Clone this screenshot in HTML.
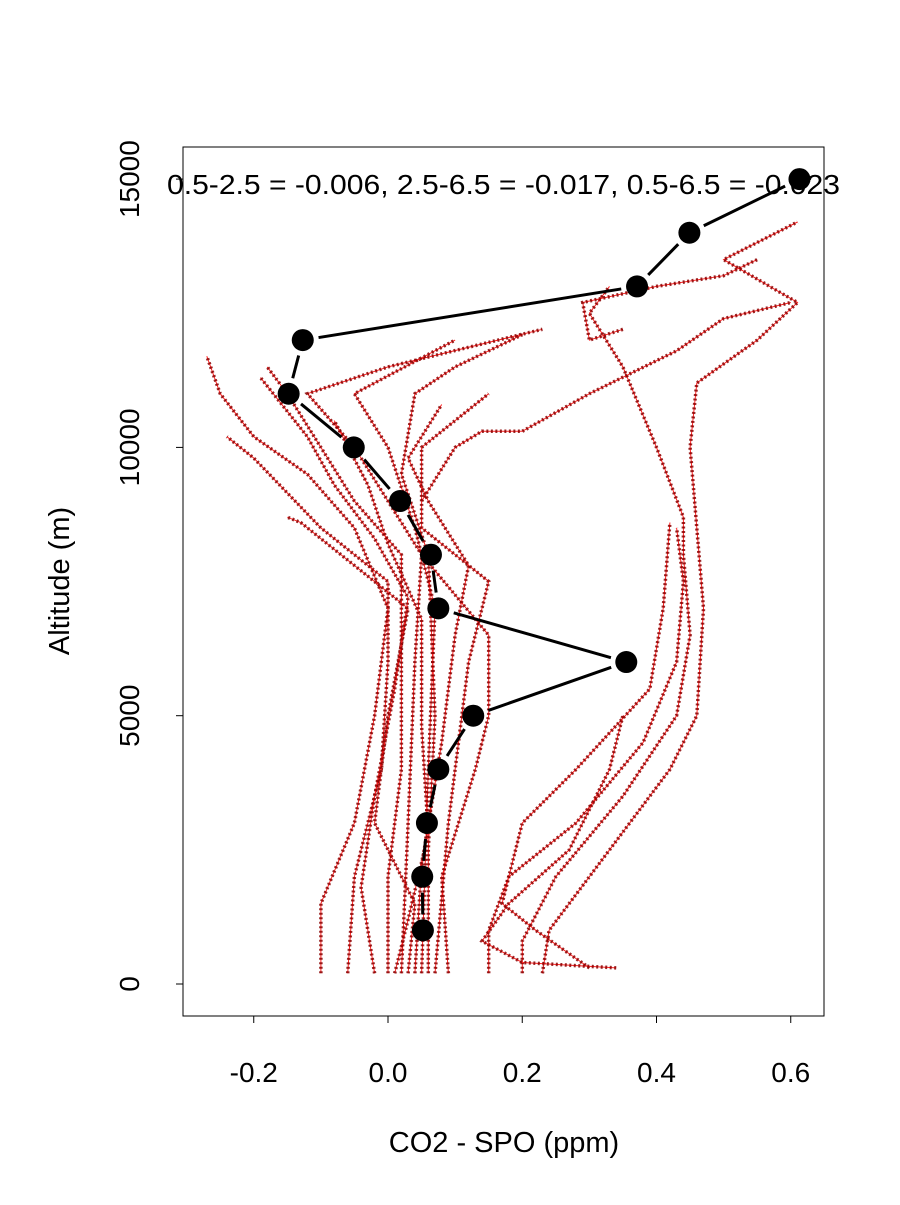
<!DOCTYPE html>
<html><head><meta charset="utf-8"><style>
html,body{margin:0;padding:0;background:#fff}
svg text{font-family:"Liberation Sans",sans-serif;fill:#000}
</style></head><body>
<svg id="chart" width="900" height="1200" viewBox="0 0 900 1200" xmlns="http://www.w3.org/2000/svg">
<rect x="183" y="147" width="641" height="869" fill="none" stroke="#000" stroke-width="1"/>
<g id="xaxis"></g>
<g id="yaxis"></g>
<g id="profiles"></g>
<g id="mean"></g>
<text x="504" y="1152" font-size="29" text-anchor="middle">CO2 - SPO (ppm)</text>
<text x="69" y="581" font-size="29" text-anchor="middle" transform="rotate(-90 69 581)">Altitude (m)</text>
<text x="167" y="194" font-size="28" textLength="673" lengthAdjust="spacingAndGlyphs">0.5-2.5 = -0.006, 2.5-6.5 = -0.017, 0.5-6.5 = -0.023</text>
</svg>
<script>
const xTicks=[-0.2,0.0,0.2,0.4,0.6];
const xTickLabels=["-0.2","0.0","0.2","0.4","0.6"];
const yTicks=[0,5000,10000,15000];
const yTickLabels=["0","5000","10000","15000"];
const meanAlt=[1000,2000,3000,4000,5000,6000,7000,8000,9000,10000,11000,12000,13000,14000,15000];
const meanCO2=[0.052,0.051,0.058,0.075,0.127,0.355,0.075,0.064,0.018,-0.051,-0.148,-0.127,0.371,0.449,0.613];
const profA=[[200,-0.1],[1500,-0.1],[3000,-0.05],[5000,-0.02],[7000,0.0],[8500,-0.05],[9500,-0.12],[10200,-0.2],[11000,-0.25],[11700,-0.27]];
const profB=[[200,-0.06],[2000,-0.05],[4000,-0.01],[6000,0.0],[7500,0.0],[8500,-0.1],[9800,-0.2],[10200,-0.24]];
const profC=[[200,0.0],[2000,0.0],[4000,0.02],[6000,0.02],[8000,0.02],[9000,-0.05],[10000,-0.1],[11000,-0.15],[11500,-0.18]];
const profD=[[200,0.02],[3000,0.03],[6000,0.04],[8000,0.05],[9000,0.0],[10000,-0.05],[11000,-0.12],[11500,0.0],[12200,0.23]];
const profE=[[200,0.05],[4000,0.06],[7000,0.07],[8500,0.04],[10000,0.0],[11000,-0.05],[12000,0.1]];
const profF=[[200,0.07],[3000,0.09],[6000,0.12],[7500,0.15],[8500,0.05],[10000,0.05],[10500,0.1],[11000,0.15]];
const profG=[[200,0.09],[2000,0.08],[4000,0.13],[5000,0.15],[6500,0.15],[8000,0.05]];
const profH=[[200,0.03],[1500,0.04],[3000,-0.02],[5000,0.0],[7000,0.03],[8600,-0.13],[8700,-0.15]];
const profI=[[200,0.06],[2500,0.06],[5000,0.07],[8000,0.06],[9500,0.02],[11000,0.04],[11500,0.1],[12100,0.2]];
const profJ=[[200,-0.02],[1800,-0.04],[3500,-0.02],[5500,0.01],[7200,0.03],[8300,-0.02],[9300,-0.08],[10200,-0.12],[11300,-0.19]];
const profK=[[200,0.04],[2200,0.05],[4500,0.08],[6500,0.1],[7800,0.12],[9000,0.06],[9800,0.03],[10800,0.08]];
const profL=[[200,0.01],[1200,0.03],[2800,0.06],[4800,0.05],[6800,0.05],[8200,0.0],[9300,-0.03],[10500,-0.08]];
const profR1=[[200,0.2],[800,0.2],[2000,0.25],[3500,0.35],[5000,0.43],[6500,0.45],[8000,0.44],[8700,0.44],[10000,0.40],[11500,0.35],[12500,0.3],[13000,0.33]];
const profR2=[[200,0.23],[1000,0.24],[2500,0.33],[4000,0.42],[5000,0.46],[7000,0.47],[8500,0.46],[10000,0.45],[11200,0.46],[12000,0.55],[12700,0.61],[13500,0.5],[14200,0.61]];
const profR3=[[200,0.15],[1000,0.15],[2000,0.18],[3000,0.28],[4500,0.38],[6000,0.43],[7500,0.44],[8500,0.43]];
const profR4=[[300,0.3],[1000,0.22],[1500,0.17],[3000,0.2],[4000,0.28],[5500,0.39],[7000,0.41],[8600,0.42]];
const profR5=[[300,0.34],[400,0.2],[800,0.14],[1500,0.18],[2500,0.27],[4000,0.33],[5000,0.35]];
const profU1=[[9000,0.05],[10000,0.1],[10300,0.14],[10300,0.2],[11000,0.3],[11800,0.43],[12400,0.5],[12700,0.6]];
const profU2=[[12200,0.35],[12000,0.3],[12700,0.29],[13000,0.4],[13200,0.5],[13500,0.55]];
const profiles=[profA,profB,profC,profD,profE,profF,profG,profH,profI,profJ,profK,profL,profR1,profR2,profR3,profR4,profR5,profU1,profU2];

const NS="http://www.w3.org/2000/svg";
const xS=v=>388+v*671.25;
const yS=a=>984-a*0.05366;
function mk(t,p,at){const e=document.createElementNS(NS,t);for(const k in at)e.setAttribute(k,at[k]);p.appendChild(e);return e;}
const xa=document.getElementById('xaxis'),ya=document.getElementById('yaxis');
let l=mk('line',xa,{x1:xS(-0.2),x2:xS(0.6),y1:1016,y2:1016,stroke:'#000'});


xTicks.forEach((v,i)=>{
 const t=mk('line',xa,{x1:xS(v),x2:xS(v),y1:1016,y2:1023,stroke:'#000'});
 
 
 const tx=mk('text',xa,{x:xS(v),y:1082,'font-size':28,'text-anchor':'middle'});tx.textContent=xTickLabels[i];
 
 
});
l=mk('line',ya,{x1:183,x2:183,y1:yS(0),y2:yS(15000),stroke:'#000'});


yTicks.forEach((v,i)=>{
 const t=mk('line',ya,{x1:176,x2:183,y1:yS(v),y2:yS(v),stroke:'#000'});
 
 
 const tx=mk('text',ya,{x:139,y:yS(v),'font-size':28,'text-anchor':'middle',transform:`rotate(-90 139 ${yS(v)})`});tx.textContent=yTickLabels[i];
 
 
});
const pg=document.getElementById('profiles');
profiles.forEach(p=>{
 const d=p.map((q,i)=>(i?'L':'M')+xS(q[1]).toFixed(1)+' '+yS(q[0]).toFixed(1)).join(' ');
 const a=mk('path',pg,{d:d,fill:'none',stroke:'#ff2020','stroke-width':1});
 
 
 const b=mk('path',pg,{d:d,fill:'none',stroke:'#8b0000','stroke-width':3.5,'stroke-dasharray':'2 2.5','stroke-opacity':0.85});
 
 
});
const mg=document.getElementById('mean');
for(let i=0;i<meanAlt.length-1;i++){
 const x1=xS(meanCO2[i]),y1=yS(meanAlt[i]),x2=xS(meanCO2[i+1]),y2=yS(meanAlt[i+1]);
 const L=Math.hypot(x2-x1,y2-y1),g=16;
 if(L<=2*g)continue;
 const ux=(x2-x1)/L,uy=(y2-y1)/L;
 const s=mk('line',mg,{x1:x1+ux*g,y1:y1+uy*g,x2:x2-ux*g,y2:y2-uy*g,stroke:'#000','stroke-width':3});
 
 
}
meanAlt.forEach((a,i)=>{
 const c=mk('circle',mg,{cx:xS(meanCO2[i]),cy:yS(a),r:11,fill:'#000'});
 
 
});
</script>
</body></html>
